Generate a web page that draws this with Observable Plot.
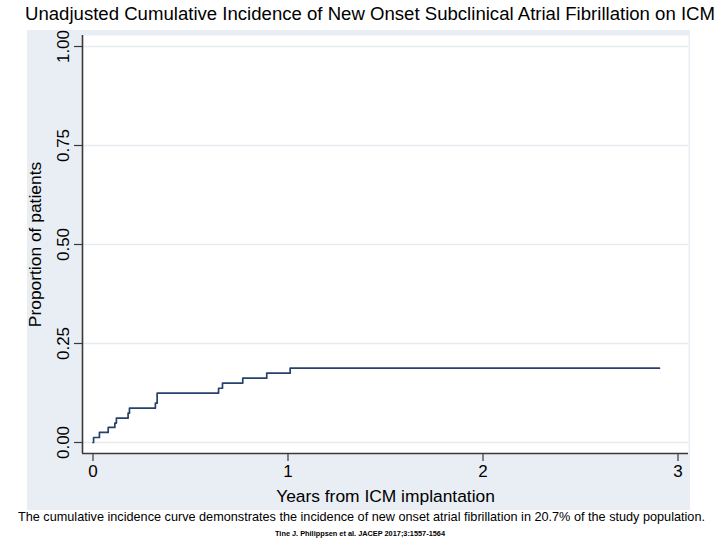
<!DOCTYPE html>
<html>
<head>
<meta charset="utf-8">
<script src="https://cdn.jsdelivr.net/npm/d3@7"></script>
<script src="https://cdn.jsdelivr.net/npm/@observablehq/plot@0.6"></script>
<style>
  html, body { margin: 0; padding: 0; background: #fff; }
  #page { position: relative; width: 720px; height: 540px; overflow: hidden; font-family: "Liberation Sans", Arial, sans-serif; }
  .txt { position: absolute; white-space: nowrap; line-height: 1; display: inline-block; transform-origin: left top; color: #000; }
  #chart { position: absolute; left: 27px; top: 30px; }
</style>
</head>
<body>
<div id="page">
  <div class="txt" id="title" style="left:25px; top:6px; font-size:17.5px;">Unadjusted Cumulative Incidence of New Onset Subclinical Atrial Fibrillation on ICM</div>
  <div id="chart"></div>
  <div class="txt" id="caption" style="left:18px; top:511px; font-size:12.6px;">The cumulative incidence curve demonstrates the incidence of new onset atrial fibrillation in 20.7% of the study population.</div>
  <div class="txt" id="cite" style="left:275px; top:530px; font-size:7px; font-weight:bold;">Tine J. Philippsen et al. JACEP 2017;3:1557-1564</div>
</div>
<script>
// Data (step function, cumulative incidence)
const years = [0, 0.003, 0.033, 0.078, 0.112, 0.12, 0.18, 0.187, 0.32, 0.329, 0.644, 0.664, 0.768, 0.891, 1.011, 2.905];
const proportion = [0, 0.0126, 0.0253, 0.038, 0.049, 0.0614, 0.074, 0.0867, 0.0993, 0.1246, 0.137, 0.150, 0.1625, 0.175, 0.1877, 0.1877];

const xTicks = [0, 1, 2, 3];
const yTicks = [0, 0.25, 0.5, 0.75, 1];
const yTickLabels = ["0.00", "0.25", "0.50", "0.75", "1.00"];

const xLabel = "Years from ICM implantation";
const yLabel = "Proportion of patients";

const data = years.map((t, i) => ({t, p: proportion[i]}));
const yTickData = yTicks.map((v, i) => ({v, label: yTickLabels[i]}));

const xDomain = [-0.0538, 3.0538];
const yDomain = [-0.0278, 1.0278];
const axisColor = "#3a3a3a";

const chart = Plot.plot({
  width: 663,
  height: 480,
  marginLeft: 55,
  marginRight: 2,
  marginTop: 5,
  marginBottom: 57,
  style: {background: "#e9eef4", fontFamily: "'Liberation Sans', Arial, sans-serif", color: "#000", overflow: "visible"},
  x: {domain: xDomain},
  y: {domain: yDomain},
  marks: [
    Plot.frame({fill: "white", stroke: null}),
    Plot.gridY(yTicks, {stroke: "#e5ebf0", strokeOpacity: 1, strokeWidth: 1.3}),
    Plot.axisX(xTicks, {tickSize: 8, tickPadding: 3, fontSize: 17, tickFormat: d => String(d), label: null, stroke: axisColor, strokeWidth: 1.2}),
    Plot.axisY(yTicks, {tickSize: 8, tickFormat: () => "", label: null, stroke: axisColor, strokeWidth: 1.2}),
    Plot.text(yTickData, {y: "v", text: "label", frameAnchor: "left", dx: -18.5, rotate: -90, textAnchor: "middle", lineAnchor: "middle", fontSize: 17}),
    Plot.ruleY([yDomain[0]], {stroke: axisColor, strokeWidth: 1.6}),
    Plot.ruleX([xDomain[0]], {stroke: axisColor, strokeWidth: 1.6}),
    Plot.line(data, {x: "t", y: "p", curve: "step-after", stroke: "#27416c", strokeWidth: 1.7}),
    Plot.text([yLabel], {frameAnchor: "left", dx: -47.5, rotate: -90, textAnchor: "middle", lineAnchor: "middle", fontSize: 17.4}),
    Plot.text([xLabel], {frameAnchor: "bottom", dy: 43, textAnchor: "middle", lineAnchor: "middle", fontSize: 17.4})
  ]
});
document.getElementById("chart").appendChild(chart);

// Fit HTML texts to the widths measured on the reference
function fitWidth(id, target) {
  const el = document.getElementById(id);
  const w = el.getBoundingClientRect().width;
  if (w > 0) el.style.transform = `scaleX(${target / w})`;
}
fitWidth("title", 690);
fitWidth("caption", 687);
fitWidth("cite", 170);
</script>
</body>
</html>
